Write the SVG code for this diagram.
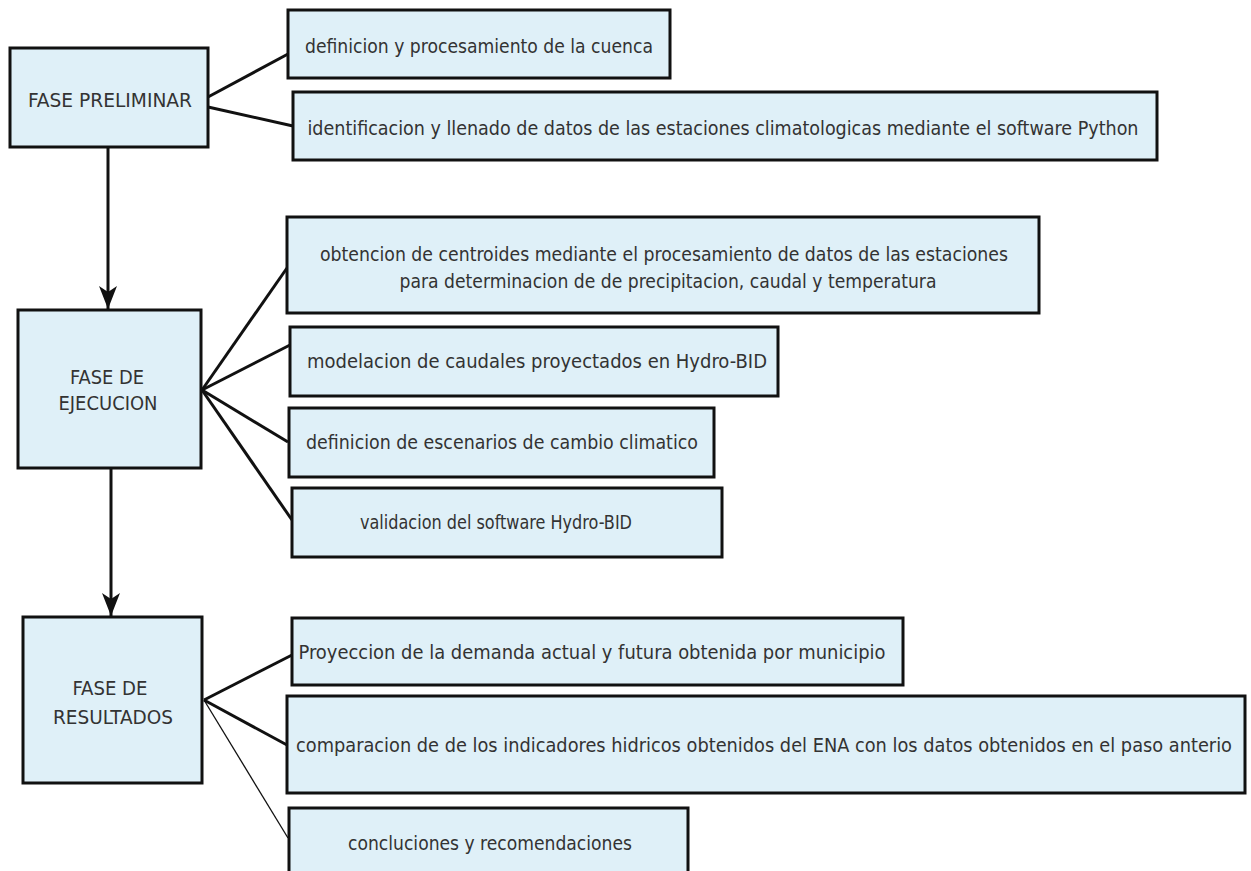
<svg xmlns="http://www.w3.org/2000/svg" width="1251" height="871" viewBox="0 0 1251 871">
<style>
.box{fill:#dff0f8;stroke:#111;stroke-width:3}
.t{font-family:"DejaVu Sans Condensed","DejaVu Sans",sans-serif;font-size:19.5px;fill:#333;text-anchor:middle;dominant-baseline:central}
.c{stroke:#111;stroke-width:3;fill:none}
.thin{stroke:#111;stroke-width:1.3;fill:none}
</style>
<defs>
<marker id="ah" markerUnits="userSpaceOnUse" markerWidth="24" markerHeight="20" refX="23" refY="10" orient="auto" viewBox="0 0 24 20">
<path d="M23,10 L0,1 L6,10 L0,19 Z" fill="#111"/>
</marker>
</defs>
<rect width="1251" height="871" fill="#fff"/>
<g id="connectors">
<line class="c" x1="208" y1="97" x2="288" y2="54"/>
<line class="c" x1="208" y1="107" x2="293" y2="126"/>
<line class="c" x1="108" y1="147" x2="108" y2="309" marker-end="url(#ah)"/>
<line class="c" x1="202" y1="390" x2="287" y2="268"/>
<line class="c" x1="202" y1="390" x2="290" y2="345"/>
<line class="c" x1="202" y1="390" x2="288" y2="442"/>
<line class="c" x1="202" y1="390" x2="292" y2="520"/>
<line class="c" x1="111" y1="468" x2="111" y2="616" marker-end="url(#ah)"/>
<line class="c" x1="204" y1="700" x2="292" y2="655"/>
<line class="c" x1="204" y1="700" x2="287" y2="745"/>
<line class="thin" x1="204" y1="700" x2="288" y2="838"/>
</g>
<g id="fase-preliminar">
<rect class="box" x="10" y="48" width="198" height="99"/>
<text class="t" x="110" y="100" textLength="164" lengthAdjust="spacingAndGlyphs">FASE PRELIMINAR</text>
</g>
<g id="definicion-cuenca">
<rect class="box" x="288" y="10" width="382" height="68"/>
<text class="t" x="479" y="46" textLength="348" lengthAdjust="spacingAndGlyphs">definicion y procesamiento de la cuenca</text>
</g>
<g id="identificacion">
<rect class="box" x="293" y="92" width="864" height="68"/>
<text class="t" x="723" y="128" textLength="831" lengthAdjust="spacingAndGlyphs">identificacion y llenado de datos  de las estaciones climatologicas mediante el software Python</text>
</g>
<g id="fase-ejecucion">
<rect class="box" x="18" y="310" width="183" height="158"/>
<text class="t" x="107" y="377" textLength="74" lengthAdjust="spacingAndGlyphs">FASE DE</text>
<text class="t" x="108" y="403" textLength="99" lengthAdjust="spacingAndGlyphs">EJECUCION</text>
</g>
<g id="obtencion">
<rect class="box" x="287" y="217" width="752" height="96"/>
<text class="t" x="664" y="254" textLength="688" lengthAdjust="spacingAndGlyphs">obtencion de centroides mediante el procesamiento de datos de las estaciones</text>
<text class="t" x="668" y="281" textLength="537" lengthAdjust="spacingAndGlyphs">para determinacion de de precipitacion, caudal y temperatura</text>
</g>
<g id="modelacion">
<rect class="box" x="290" y="327" width="488" height="69"/>
<text class="t" x="537" y="361" textLength="460" lengthAdjust="spacingAndGlyphs">modelacion de caudales proyectados en  Hydro-BID</text>
</g>
<g id="escenarios">
<rect class="box" x="289" y="408" width="425" height="69"/>
<text class="t" x="502" y="442" textLength="392" lengthAdjust="spacingAndGlyphs">definicion de escenarios de cambio climatico</text>
</g>
<g id="validacion">
<rect class="box" x="292" y="488" width="430" height="69"/>
<text class="t" x="496" y="522" textLength="272" lengthAdjust="spacingAndGlyphs">validacion del software Hydro-BID</text>
</g>
<g id="fase-resultados">
<rect class="box" x="23" y="617" width="179" height="166"/>
<text class="t" x="110" y="688" textLength="75" lengthAdjust="spacingAndGlyphs">FASE DE</text>
<text class="t" x="113" y="717" textLength="120" lengthAdjust="spacingAndGlyphs">RESULTADOS</text>
</g>
<g id="proyeccion">
<rect class="box" x="292" y="618" width="611" height="67"/>
<text class="t" x="592" y="652" textLength="587" lengthAdjust="spacingAndGlyphs">Proyeccion de la demanda actual y futura obtenida por municipio</text>
</g>
<g id="comparacion">
<rect class="box" x="287" y="696" width="958" height="97"/>
<text class="t" x="764" y="745" textLength="936" lengthAdjust="spacingAndGlyphs">comparacion de de los indicadores  hidricos obtenidos del ENA con los datos obtenidos en el paso anterio</text>
</g>
<g id="conclusiones">
<rect class="box" x="289" y="808" width="399" height="75"/>
<text class="t" x="490" y="843" textLength="284" lengthAdjust="spacingAndGlyphs">concluciones y recomendaciones</text>
</g>
</svg>
